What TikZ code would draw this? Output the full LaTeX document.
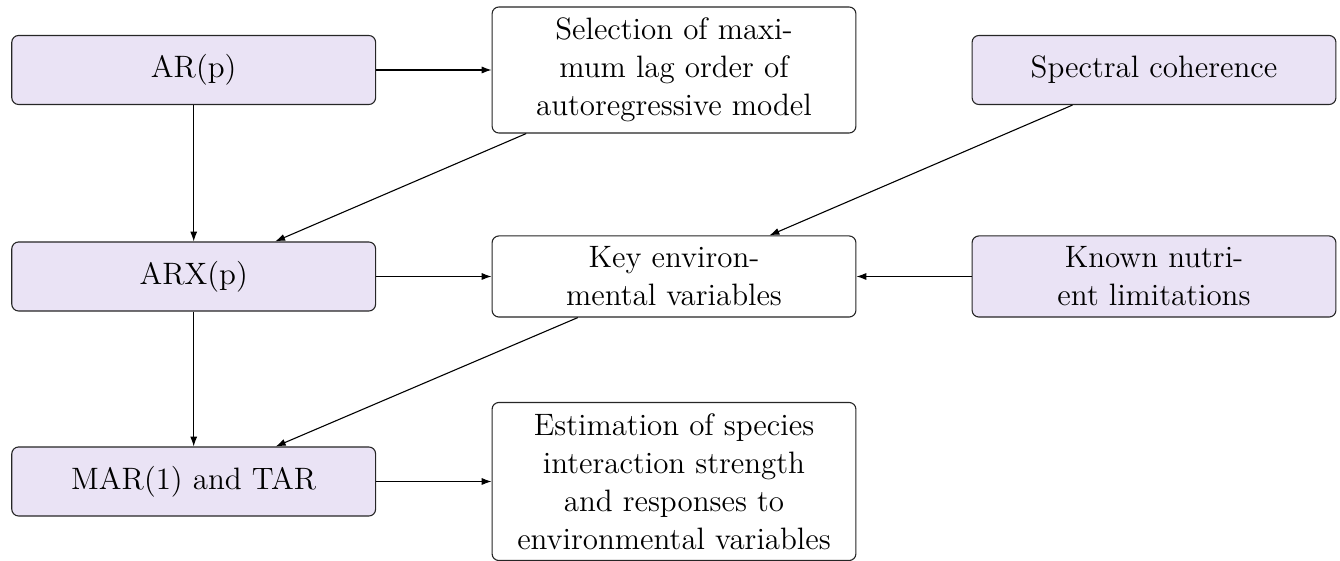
\documentclass[tikz,border=0pt]{standalone}
\usetikzlibrary{arrows.meta}
\definecolor{lav}{RGB}{234,227,245}
\begin{document}
\begin{tikzpicture}[x=0.365pt,y=-0.365pt,
  box/.style={draw=black!85, line width=0.4pt, rounded corners=2.5pt, inner sep=0pt,
    minimum width=132.8pt, align=center, font=\fontsize{11.3}{13.9}\selectfont},
  pbox/.style={box, fill=lav},
  wbox/.style={box, fill=white},
  arr/.style={-{Latex[length=3.6pt,width=2.6pt]}, line width=0.4pt}]
\useasboundingbox (0,0) rectangle (1340,561);
\node[pbox, minimum height=25.2pt] (ar) at (193.7,70) {AR(p)};
\node[wbox, minimum height=46pt] (sel) at (674,70) {Selection of maxi-\\mum lag order of\\autoregressive model};
\node[pbox, minimum height=25.2pt] (spec) at (1154,70) {Spectral coherence};
\node[pbox, minimum height=25.2pt] (arx) at (193.7,276.5) {ARX(p)};
\node[wbox, minimum height=29.6pt] (key) at (674,276.5) {Key environ-\\mental variables};
\node[pbox, minimum height=29.6pt] (known) at (1154,276.5) {Known nutri-\\ent limitations};
\node[pbox, minimum height=25.2pt] (mar) at (193.7,481.5) {MAR(1) and TAR};
\node[wbox, minimum height=57.7pt] (est) at (674,481.5) {Estimation of species\\interaction strength\\and responses to\\environmental variables};
\draw[arr] (ar) -- (sel);
\draw[arr] (ar) -- (arx);
\draw[arr] (sel) -- (arx);
\draw[arr] (spec) -- (key);
\draw[arr] (arx) -- (key);
\draw[arr] (known) -- (key);
\draw[arr] (arx) -- (mar);
\draw[arr] (key) -- (mar);
\draw[arr] (mar) -- (est);
\end{tikzpicture}
\end{document}
